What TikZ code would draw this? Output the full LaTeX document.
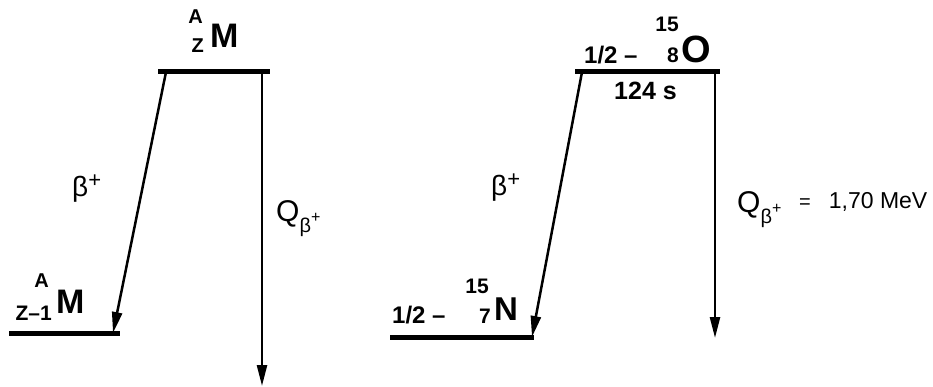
\documentclass[tikz,border=0pt]{standalone}
\usepackage{fontspec}
\setmainfont{Liberation Sans}
\usetikzlibrary{positioning,arrows.meta}
\newcommand{\fsz}[1]{\fontsize{#1}{#1}\selectfont}
\newcommand{\betaplus}{β\raisebox{9.5pt}{\fsz{22}+}}
\newcommand{\Qbetaplus}{Q\raisebox{-11pt}{\fsz{20}β}\raisebox{-1pt}{\fsz{16}+}}

\begin{document}
\begin{tikzpicture}[x=1pt,y=-1pt,>={Triangle[length=21pt,width=10pt]},
 level/.style={line width=5pt},
 decay/.style={->,line width=2.5pt},
 lbl/.style={inner sep=0pt,anchor=base west},
 elem/.style={lbl,font=\bfseries\fsz{34}},
 idx/.style={inner sep=0pt,anchor=base east,font=\bfseries\fsz{20}},
 nidx/.style={idx,font=\bfseries\fsz{21}},
 spin/.style={lbl,font=\bfseries\fsz{24}},
 greek/.style={lbl,font=\fsz{28}},
 qlbl/.style={lbl,font=\fsz{30}}]
\useasboundingbox (0,0) rectangle (933,387);
% generic scheme
\coordinate (gTopL) at (158,72);
\coordinate (gTopR) at (270,72);
\coordinate (gBotL) at (9,333);
\coordinate (gBotR) at (120,333);
\coordinate (gStart) at (166,72);
\coordinate (gEnd) at (113,333);
\coordinate (gQTop) at (262,72);
\coordinate (gQBot) at (262,386);
\draw[level] (gTopL) -- (gTopR);
\draw[level] (gBotL) -- (gBotR);
\draw[decay] (gStart) -- (gEnd);
\draw[decay] (gQTop) -- (gQBot);
\node[elem] (mTop) at (210,48) {M};
\node[idx] (aTop) at (203,24) {A};
\node[idx] (zTop) at (204,53) {Z};
\node[elem] (mBot) at (56,313) {M};
\node[idx] (aBot) at (49,287) {A};
\node[idx,font=\bfseries\fsz{21}] (zBot) at (52,320) {Z–1};
\node[greek] (gBeta) at (72,197) {\betaplus};
\node[qlbl] (gQ) at (276,222) {\Qbetaplus};
% 15O -> 15N
\coordinate (oTopL) at (575,72);
\coordinate (oTopR) at (720,72);
\coordinate (nBotL) at (390,337);
\coordinate (nBotR) at (534,337);
\coordinate (oStart) at (582,72);
\coordinate (nEnd) at (532,337);
\coordinate (oQTop) at (715,72);
\coordinate (oQBot) at (715,338);
\draw[level] (oTopL) -- (oTopR);
\draw[level] (nBotL) -- (nBotR);
\draw[decay] (oStart) -- (nEnd);
\draw[decay] (oQTop) -- (oQBot);
\node[lbl,font=\bfseries\fsz{38}] (oxy) at (681,63) {O};
\node[nidx] (oMass) at (679,32) {15};
\node[nidx] (oCharge) at (679,63) {8};
\node[spin] (oSpin) at (584,64) {1/2 –};
\node[lbl,font=\bfseries\fsz{25}] (oLife) at (614,100) {124 s};
\node[greek] (oBeta) at (491,196) {\betaplus};
\node[lbl,font=\bfseries\fsz{33}] (nit) at (494,320) {N};
\node[nidx] (nMass) at (489,293) {15};
\node[nidx] (nCharge) at (491,323) {7};
\node[spin] (nSpin) at (392,323) {1/2 –};
\node[qlbl] (oQ) at (737,213) {\Qbetaplus};
\node[lbl,font=\fsz{23}] (oQval) at (799,208) {{\fsz{20}=}\hspace{18pt}1,70 MeV};
\end{tikzpicture}
\end{document}
